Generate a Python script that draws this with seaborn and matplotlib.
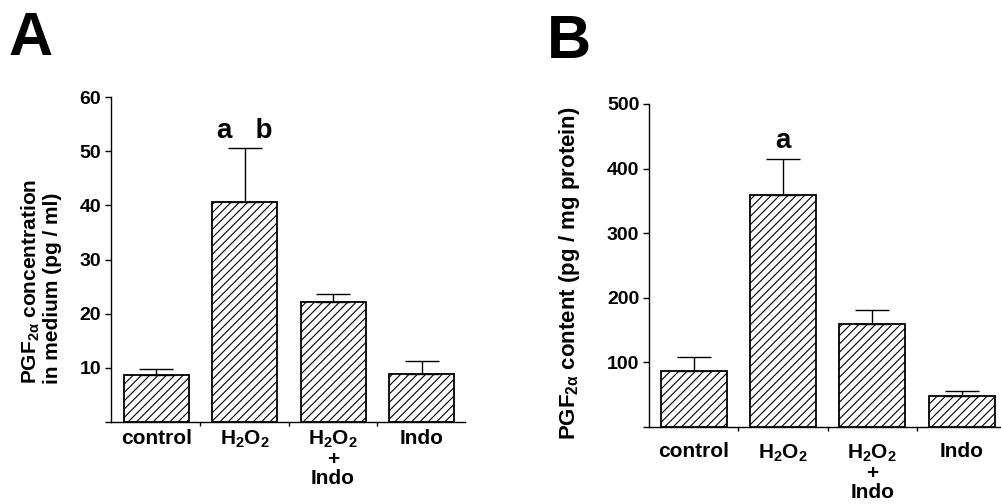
import matplotlib
matplotlib.use('Agg')
import matplotlib.pyplot as plt
import seaborn as sns
import numpy as np

# Data
groups = ['control', 'H2O2', 'H2O2+Indo', 'Indo']
group_labels = ['control',
                r'H$_2$O$_2$',
                'H$_2$O$_2$\n+\nIndo',
                'Indo']
medium_mean = [8.7, 40.6, 22.1, 8.9]      # pg / ml
medium_sem = [1.1, 10.0, 1.5, 2.4]
content_mean = [87, 359, 159, 48]         # pg / mg protein
content_sem = [21, 56, 22, 8]

sns.set_style('white')
plt.rcParams['font.family'] = ['Liberation Sans', 'DejaVu Sans']
plt.rcParams['font.weight'] = 'bold'
plt.rcParams['axes.labelweight'] = 'bold'
for key in ['text.color', 'axes.labelcolor', 'xtick.color', 'ytick.color', 'axes.edgecolor']:
    plt.rcParams[key] = 'black'
plt.rcParams['mathtext.fontset'] = 'custom'
plt.rcParams['mathtext.rm'] = 'Liberation Sans:bold'
plt.rcParams['mathtext.bf'] = 'Liberation Sans:bold'
plt.rcParams['mathtext.it'] = 'Liberation Sans:bold'
plt.rcParams['mathtext.default'] = 'bf'
plt.rcParams['hatch.linewidth'] = 0.8

fig = plt.figure(figsize=(10.01, 5.04), dpi=100)
axA = fig.add_axes([0.1109, 0.1627, 0.3536, 0.6448])
axB = fig.add_axes([0.6484, 0.1528, 0.3506, 0.6409])


def draw_panel(ax, means, sems, width, xlim, ylim, yticks, ylabel, label_size, label_xy, xpad):
    sns.barplot(x=groups, y=means, ax=ax, color='white', saturation=1,
                edgecolor='black', linewidth=1.3, width=width, errorbar=None)
    for p in ax.patches:
        p.set_hatch('////')
    ax.errorbar(np.arange(len(groups)), means,
                yerr=[np.zeros(len(groups)), sems], fmt='none',
                ecolor='black', elinewidth=1, capsize=12, capthick=1)
    ax.set_xlim(*xlim)
    ax.set_ylim(*ylim)
    ax.set_yticks(yticks)
    ax.set_yticklabels([''] + [str(t) for t in yticks[1:]], fontsize=14)
    ax.set_xticks(np.arange(len(groups)))
    ax.set_xticklabels(group_labels, fontsize=15, va='top', linespacing=1.0)
    ax.set_xticks(np.arange(len(groups) - 1) + 0.5, minor=True)
    ax.tick_params(axis='x', which='major', length=0, pad=xpad)
    ax.tick_params(axis='x', which='minor', length=3, width=1, direction='out', bottom=True)
    ax.tick_params(axis='y', length=4, width=1, direction='out', left=True, pad=3)
    sns.despine(ax=ax)
    for s in ['left', 'bottom']:
        ax.spines[s].set_linewidth(1)
    ax.set_xlabel('')
    ax.set_ylabel(ylabel, fontsize=label_size, fontweight='bold',
                  multialignment='left', linespacing=1.1)
    ax.yaxis.set_label_coords(*label_xy)


draw_panel(axA, medium_mean, medium_sem, 0.735, (-0.51, 3.49), (0, 60),
           [0, 10, 20, 30, 40, 50, 60],
           'PGF$_{2\\alpha}$ concentration\nin medium (pg / ml)', 15,
           (-0.138, 0.432), 5)
draw_panel(axB, content_mean, content_sem, 0.74, (-0.5, 3.43), (0, 500),
           [0, 100, 200, 300, 400, 500],
           'PGF$_{2\\alpha}$ content (pg / mg protein)', 16,
           (-0.191, 0.478), 11)

axA.text(1, 52.4, 'a   b', ha='center', va='baseline', fontsize=20, fontweight='bold')
axB.text(1, 432, 'a', ha='center', va='baseline', fontsize=20, fontweight='bold')

fig.text(8 / 1001, 1 - 55 / 504, 'A', fontsize=44, fontweight='bold', va='baseline')
fig.text(547 / 1001, 1 - 58 / 504, 'B', fontsize=44, fontweight='bold', va='baseline')

fig.savefig('out.png', dpi=100)
